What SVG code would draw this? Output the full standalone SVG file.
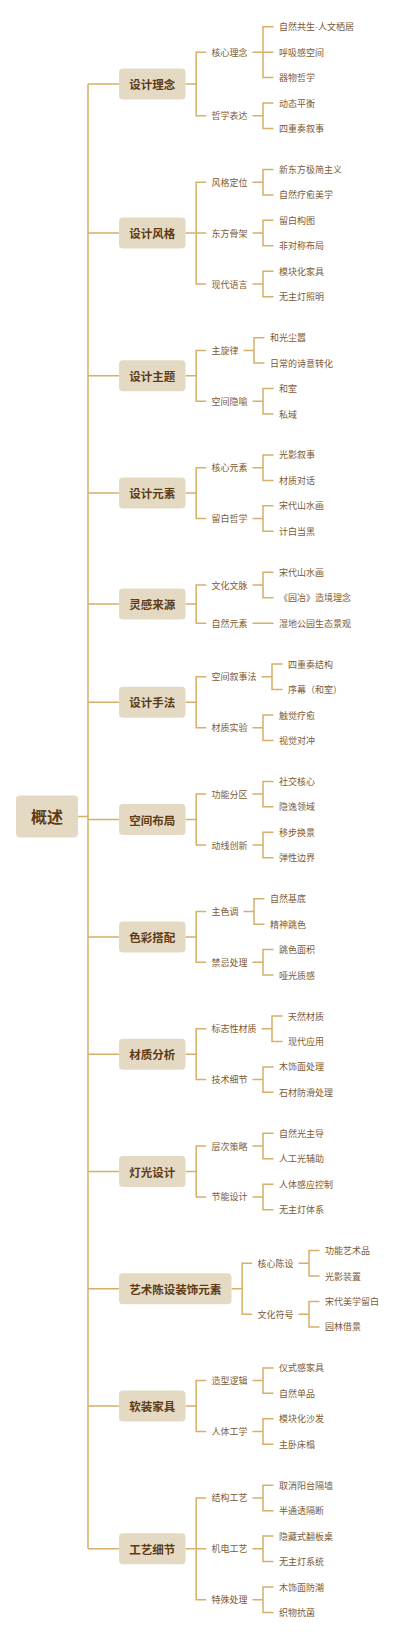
<svg xmlns="http://www.w3.org/2000/svg" width="400" height="1638" viewBox="0 0 400 1638">
<style>
.c{fill:none;stroke:#d4b06a;stroke-width:1.5}
.b{fill:#e4dac4}
.t0{font:700 16px "Noto Sans CJK SC",sans-serif;fill:#5e3b14;text-anchor:middle;dominant-baseline:central}
.t1{font:700 11.5px "Noto Sans CJK SC",sans-serif;fill:#5e3b14;text-anchor:middle;dominant-baseline:central}
.t2{font:400 9px "Noto Sans CJK SC",sans-serif;fill:#7d5a34;dominant-baseline:central}
.lat{font-family:"Liberation Sans",sans-serif}
</style>
<rect width="400" height="1638" fill="#ffffff"/>
<g id="connectors" class="c">
<path d="M78,816.4H88 M88,84V1548.8 M88,84H119 M88,233.1H119 M88,375.8H119 M88,493.1H119 M88,604.1H119 M88,702.3H119 M88,819.6H119 M88,936.9H119 M88,1054.2H119 M88,1171.5H119 M88,1288.8H119 M88,1406.1H119 M88,1548.8H119"/>
<path d="M185.5,84H196.2 M206.2,52.15H196.2V115.8H206.2 M252.5,52.15H263 M273.5,26.7H263V77.6H273.5 M263,52.15H273.5 M252.5,115.8H263 M273.5,103.05H263V128.5H273.5"/>
<path d="M185.5,233.1H196.2 M206.2,182.2H196.2V284H206.2 M196.2,233.1H206.2 M252.5,182.2H263 M273.5,169.45H263V194.9H273.5 M252.5,233.1H263 M273.5,220.35H263V245.8H273.5 M252.5,284H263 M273.5,271.25H263V296.7H273.5"/>
<path d="M185.5,375.8H196.2 M206.2,350.4H196.2V401.3H206.2 M243.5,350.4H254 M264.5,337.65H254V363.1H264.5 M252.5,401.3H263 M273.5,388.55H263V414H273.5"/>
<path d="M185.5,493.1H196.2 M206.2,467.7H196.2V518.6H206.2 M252.5,467.7H263 M273.5,454.95H263V480.4H273.5 M252.5,518.6H263 M273.5,505.85H263V531.3H273.5"/>
<path d="M185.5,604.1H196.2 M206.2,585H196.2V623.15H206.2 M252.5,585H263 M273.5,572.25H263V597.7H273.5 M252.5,623.15H273.5"/>
<path d="M185.5,702.3H196.2 M206.2,676.8H196.2V727.7H206.2 M261.5,676.8H272 M282.5,664.1H272V689.55H282.5 M252.5,727.7H263 M273.5,715H263V740.45H273.5"/>
<path d="M185.5,819.6H196.2 M206.2,794.1H196.2V845H206.2 M252.5,794.1H263 M273.5,781.4H263V806.85H273.5 M252.5,845H263 M273.5,832.3H263V857.75H273.5"/>
<path d="M185.5,936.9H196.2 M206.2,911.4H196.2V962.3H206.2 M243.5,911.4H254 M264.5,898.7H254V924.15H264.5 M252.5,962.3H263 M273.5,949.6H263V975.05H273.5"/>
<path d="M185.5,1054.2H196.2 M206.2,1028.7H196.2V1079.6H206.2 M261.5,1028.7H272 M282.5,1016H272V1041.45H282.5 M252.5,1079.6H263 M273.5,1066.9H263V1092.35H273.5"/>
<path d="M185.5,1171.5H196.2 M206.2,1146H196.2V1196.9H206.2 M252.5,1146H263 M273.5,1133.3H263V1158.75H273.5 M252.5,1196.9H263 M273.5,1184.2H263V1209.65H273.5"/>
<path d="M231.5,1288.8H242.2 M252.2,1263.3H242.2V1314.2H252.2 M298.5,1263.3H309 M319.5,1250.6H309V1276.05H319.5 M298.5,1314.2H309 M319.5,1301.5H309V1326.95H319.5"/>
<path d="M185.5,1406.1H196.2 M206.2,1380.6H196.2V1431.5H206.2 M252.5,1380.6H263 M273.5,1367.9H263V1393.35H273.5 M252.5,1431.5H263 M273.5,1418.8H263V1444.25H273.5"/>
<path d="M185.5,1548.8H196.2 M206.2,1497.9H196.2V1599.7H206.2 M196.2,1548.8H206.2 M252.5,1497.9H263 M273.5,1485.2H263V1510.65H273.5 M252.5,1548.8H263 M273.5,1536.1H263V1561.55H273.5 M252.5,1599.7H263 M273.5,1587H263V1612.45H273.5"/>
</g>
<g id="root"><rect class="b" x="16" y="795.4" width="62" height="42" rx="4"/><text class="t0" x="47" y="816.4">概述</text></g>

<g id="g1"><rect class="b" x="119" y="68.5" width="66.5" height="31" rx="4"/><text class="t1" x="152.25" y="84">设计理念</text>
<text class="t2" x="211.5" y="52.15">核心理念</text><text class="t2" x="211.5" y="115.8">哲学表达</text>
<text class="t2" x="279" y="26.7">自然共生<tspan class="lat">·</tspan>人文栖居</text><text class="t2" x="279" y="52.15">呼吸感空间</text><text class="t2" x="279" y="77.6">器物哲学</text><text class="t2" x="279" y="103.05">动态平衡</text><text class="t2" x="279" y="128.5">四重奏叙事</text></g>

<g id="g2"><rect class="b" x="119" y="217.6" width="66.5" height="31" rx="4"/><text class="t1" x="152.25" y="233.1">设计风格</text>
<text class="t2" x="211.5" y="182.2">风格定位</text><text class="t2" x="211.5" y="233.1">东方骨架</text><text class="t2" x="211.5" y="284">现代语言</text>
<text class="t2" x="279" y="169.45">新东方极简主义</text><text class="t2" x="279" y="194.9">自然疗愈美学</text><text class="t2" x="279" y="220.35">留白构图</text><text class="t2" x="279" y="245.8">非对称布局</text><text class="t2" x="279" y="271.25">模块化家具</text><text class="t2" x="279" y="296.7">无主灯照明</text></g>

<g id="g3"><rect class="b" x="119" y="360.3" width="66.5" height="31" rx="4"/><text class="t1" x="152.25" y="375.8">设计主题</text>
<text class="t2" x="211.5" y="350.4">主旋律</text><text class="t2" x="211.5" y="401.3">空间隐喻</text>
<text class="t2" x="270" y="337.65">和光尘嚣</text><text class="t2" x="270" y="363.1">日常的诗意转化</text><text class="t2" x="279" y="388.55">和室</text><text class="t2" x="279" y="414">私域</text></g>

<g id="g4"><rect class="b" x="119" y="477.6" width="66.5" height="31" rx="4"/><text class="t1" x="152.25" y="493.1">设计元素</text>
<text class="t2" x="211.5" y="467.7">核心元素</text><text class="t2" x="211.5" y="518.6">留白哲学</text>
<text class="t2" x="279" y="454.95">光影叙事</text><text class="t2" x="279" y="480.4">材质对话</text><text class="t2" x="279" y="505.85">宋代山水画</text><text class="t2" x="279" y="531.3">计白当黑</text></g>

<g id="g5"><rect class="b" x="119" y="588.6" width="66.5" height="31" rx="4"/><text class="t1" x="152.25" y="604.1">灵感来源</text>
<text class="t2" x="211.5" y="585">文化文脉</text><text class="t2" x="211.5" y="623.15">自然元素</text>
<text class="t2" x="279" y="572.25">宋代山水画</text><text class="t2" x="279" y="597.7">《园冶》造境理念</text><text class="t2" x="279" y="623.15">湿地公园生态景观</text></g>

<g id="g6"><rect class="b" x="119" y="686.8" width="66.5" height="31" rx="4"/><text class="t1" x="152.25" y="702.3">设计手法</text>
<text class="t2" x="211.5" y="676.8">空间叙事法</text><text class="t2" x="211.5" y="727.7">材质实验</text>
<text class="t2" x="288" y="664.1">四重奏结构</text><text class="t2" x="288" y="689.55">序幕（和室）</text><text class="t2" x="279" y="715">触觉疗愈</text><text class="t2" x="279" y="740.45">视觉对冲</text></g>

<g id="g7"><rect class="b" x="119" y="804.1" width="66.5" height="31" rx="4"/><text class="t1" x="152.25" y="819.6">空间布局</text>
<text class="t2" x="211.5" y="794.1">功能分区</text><text class="t2" x="211.5" y="845">动线创新</text>
<text class="t2" x="279" y="781.4">社交核心</text><text class="t2" x="279" y="806.85">隐逸领域</text><text class="t2" x="279" y="832.3">移步换景</text><text class="t2" x="279" y="857.75">弹性边界</text></g>

<g id="g8"><rect class="b" x="119" y="921.4" width="66.5" height="31" rx="4"/><text class="t1" x="152.25" y="936.9">色彩搭配</text>
<text class="t2" x="211.5" y="911.4">主色调</text><text class="t2" x="211.5" y="962.3">禁忌处理</text>
<text class="t2" x="270" y="898.7">自然基底</text><text class="t2" x="270" y="924.15">精神跳色</text><text class="t2" x="279" y="949.6">跳色面积</text><text class="t2" x="279" y="975.05">哑光质感</text></g>

<g id="g9"><rect class="b" x="119" y="1038.7" width="66.5" height="31" rx="4"/><text class="t1" x="152.25" y="1054.2">材质分析</text>
<text class="t2" x="211.5" y="1028.7">标志性材质</text><text class="t2" x="211.5" y="1079.6">技术细节</text>
<text class="t2" x="288" y="1016">天然材质</text><text class="t2" x="288" y="1041.45">现代应用</text><text class="t2" x="279" y="1066.9">木饰面处理</text><text class="t2" x="279" y="1092.35">石材防滑处理</text></g>

<g id="g10"><rect class="b" x="119" y="1156" width="66.5" height="31" rx="4"/><text class="t1" x="152.25" y="1171.5">灯光设计</text>
<text class="t2" x="211.5" y="1146">层次策略</text><text class="t2" x="211.5" y="1196.9">节能设计</text>
<text class="t2" x="279" y="1133.3">自然光主导</text><text class="t2" x="279" y="1158.75">人工光辅助</text><text class="t2" x="279" y="1184.2">人体感应控制</text><text class="t2" x="279" y="1209.65">无主灯体系</text></g>

<g id="g11"><rect class="b" x="119" y="1273.3" width="112.5" height="31" rx="4"/><text class="t1" x="175.25" y="1288.8">艺术陈设装饰元素</text>
<text class="t2" x="257.5" y="1263.3">核心陈设</text><text class="t2" x="257.5" y="1314.2">文化符号</text>
<text class="t2" x="325" y="1250.6">功能艺术品</text><text class="t2" x="325" y="1276.05">光影装置</text><text class="t2" x="325" y="1301.5">宋代美学留白</text><text class="t2" x="325" y="1326.95">园林借景</text></g>

<g id="g12"><rect class="b" x="119" y="1390.6" width="66.5" height="31" rx="4"/><text class="t1" x="152.25" y="1406.1">软装家具</text>
<text class="t2" x="211.5" y="1380.6">造型逻辑</text><text class="t2" x="211.5" y="1431.5">人体工学</text>
<text class="t2" x="279" y="1367.9">仪式感家具</text><text class="t2" x="279" y="1393.35">自然单品</text><text class="t2" x="279" y="1418.8">模块化沙发</text><text class="t2" x="279" y="1444.25">主卧床榻</text></g>

<g id="g13"><rect class="b" x="119" y="1533.3" width="66.5" height="31" rx="4"/><text class="t1" x="152.25" y="1548.8">工艺细节</text>
<text class="t2" x="211.5" y="1497.9">结构工艺</text><text class="t2" x="211.5" y="1548.8">机电工艺</text><text class="t2" x="211.5" y="1599.7">特殊处理</text>
<text class="t2" x="279" y="1485.2">取消阳台隔墙</text><text class="t2" x="279" y="1510.65">半通透隔断</text><text class="t2" x="279" y="1536.1">隐藏式翻板桌</text><text class="t2" x="279" y="1561.55">无主灯系统</text><text class="t2" x="279" y="1587">木饰面防潮</text><text class="t2" x="279" y="1612.45">织物抗菌</text></g>
</svg>
